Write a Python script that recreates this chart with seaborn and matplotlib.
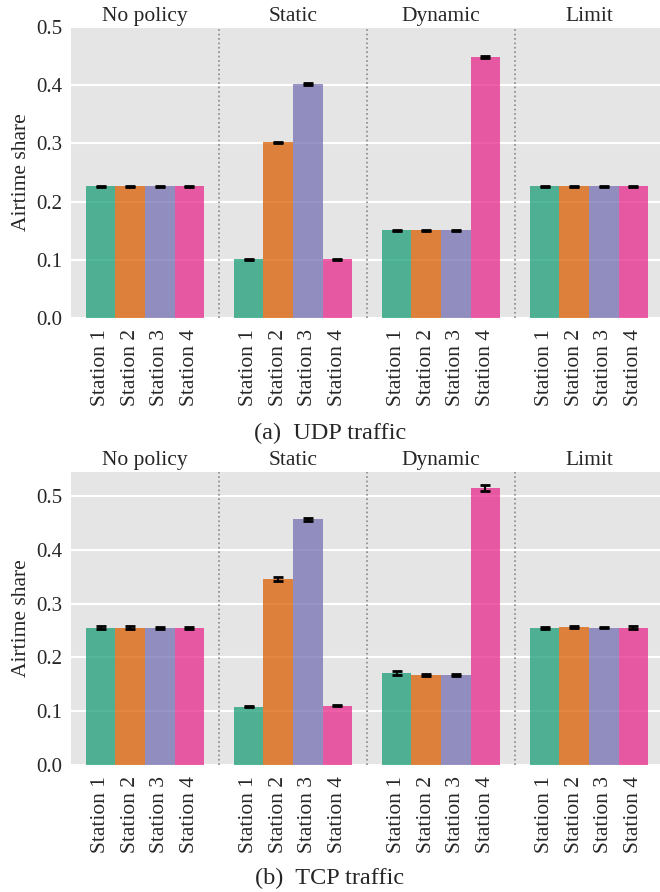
import matplotlib
matplotlib.use("Agg")
import matplotlib.pyplot as plt
import matplotlib.transforms as mtransforms
import numpy as np
import pandas as pd
import seaborn as sns

policies = ["No policy", "Static", "Dynamic", "Limit"]
stations = ["Station 1", "Station 2", "Station 3", "Station 4"]

# Airtime share per policy (rows) and station (columns)
udp_share = [
    [0.226, 0.226, 0.226, 0.226],
    [0.101, 0.302, 0.402, 0.101],
    [0.151, 0.151, 0.151, 0.448],
    [0.226, 0.226, 0.226, 0.226],
]
udp_err = [
    [0.001, 0.001, 0.001, 0.001],
    [0.001, 0.001, 0.001, 0.001],
    [0.001, 0.001, 0.001, 0.002],
    [0.001, 0.001, 0.001, 0.001],
]
tcp_share = [
    [0.255, 0.255, 0.255, 0.255],
    [0.108, 0.346, 0.457, 0.110],
    [0.171, 0.168, 0.168, 0.515],
    [0.255, 0.256, 0.255, 0.255],
]
tcp_err = [
    [0.003, 0.003, 0.002, 0.002],
    [0.001, 0.003, 0.003, 0.001],
    [0.003, 0.002, 0.002, 0.006],
    [0.002, 0.002, 0.001, 0.003],
]

sns.set_style("darkgrid", {
    "axes.facecolor": "#E5E5E5",
    "grid.color": "white",
    "axes.edgecolor": "#E5E5E5",
})
plt.rcParams["font.family"] = ["Liberation Serif", "DejaVu Serif"]
plt.rcParams["font.size"] = 15.5

palette = sns.color_palette("Dark2", 4)

fig = plt.figure(figsize=(6.6, 8.92), dpi=100)


def draw_panel(ax, share, err, ymax, caption, cap_y):
    rows = []
    for p, vals in zip(policies, share):
        for s, v in zip(stations, vals):
            rows.append({"policy": p, "station": s, "share": v})
    df = pd.DataFrame(rows)
    sns.barplot(data=df, x="policy", y="share", hue="station",
                order=policies, hue_order=stations, palette=palette,
                saturation=1, alpha=0.75, errorbar=None, linewidth=0,
                ax=ax, legend=False)

    bar_groups = list(ax.containers)
    centers, labels = [], []
    for k, container in enumerate(bar_groups):
        xs = [b.get_x() + b.get_width() / 2 for b in container]
        ys = [b.get_height() for b in container]
        es = [err[g][k] for g in range(len(policies))]
        ax.errorbar(xs, ys, yerr=es, fmt="none", ecolor="black",
                    elinewidth=1.5, capsize=3.5, capthick=2, zorder=5)
        centers += xs
        labels += [stations[k]] * len(xs)

    order = np.argsort(centers)
    ax.set_xticks(np.array(centers)[order])
    ax.set_xticklabels(np.array(labels)[order], rotation=90)
    ax.tick_params(axis="x", length=0, pad=8, labelsize=15.5)
    ax.tick_params(axis="y", length=0, pad=6, labelsize=15)

    for xsep in [0.5, 1.5, 2.5]:
        ax.axvline(xsep, color="#888888", linestyle=":", linewidth=1.2, zorder=1)

    ax.set_xlim(-0.5, 3.5)
    ax.set_ylim(0, ymax)
    ax.set_yticks(np.arange(0, 0.51, 0.1))
    ax.yaxis.set_major_formatter(matplotlib.ticker.FormatStrFormatter("%.1f"))
    ax.grid(axis="x", visible=False)
    ax.grid(axis="y", color="white", linewidth=1.5)
    ax.set_axisbelow(True)
    ax.set_xlabel("")
    ax.set_ylabel("Airtime share", fontsize=15.5)
    ax.yaxis.set_label_coords(-0.068, 0.5)
    for side in ax.spines.values():
        side.set_visible(False)

    trans = mtransforms.blended_transform_factory(ax.transData, ax.transAxes)
    for g, p in enumerate(policies):
        ax.text(g, 1.005, p, transform=trans, ha="center", va="bottom", fontsize=15.5)

    fig.text(0.5, cap_y, caption, ha="center", va="center", fontsize=17.5)


ax1 = fig.add_axes([0.1076, 0.6435, 0.897, 0.3262])
draw_panel(ax1, udp_share, udp_err, 0.5, "(a)  UDP traffic", 1 - 433 / 892)

ax2 = fig.add_axes([0.1076, 0.1424, 0.897, 0.3285])
draw_panel(ax2, tcp_share, tcp_err, 0.545, "(b)  TCP traffic", 1 - 878 / 892)

fig.savefig("out.png", dpi=100)
